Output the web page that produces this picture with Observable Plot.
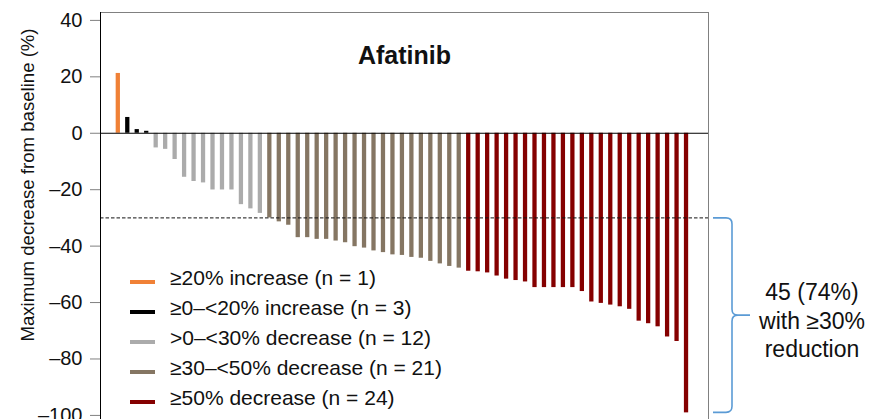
<!DOCTYPE html>
<html><head><meta charset="utf-8">
<script src="https://cdn.jsdelivr.net/npm/d3@7"></script>
<script src="https://cdn.jsdelivr.net/npm/@observablehq/plot@0.6"></script>
<style>
html,body{margin:0;padding:0;background:#fff;overflow:hidden;}
#wrap{position:relative;width:873px;height:419px;font-family:"Liberation Sans",Arial,sans-serif;}
#legend{position:absolute;left:130px;top:263px;}
.row{position:relative;height:30px;line-height:30px;font-size:21px;padding-left:40px;white-space:nowrap;color:#111;}
.sw{position:absolute;left:0;top:17px;width:25px;height:4px;}
</style></head><body><div id="wrap"></div>
<script>
// ---- data ----
const groups = ["≥20% increase", "≥0–<20% increase", ">0–<30% decrease", "≥30–<50% decrease", "≥50% decrease"];
const groupColors = ["#F08136", "#000000", "#ABABAB", "#857663", "#850000"];
const increase20 = [21.2];
const increase0 = [5.6, 1.3, 0.7];
const decrease0 = [-5.2, -5.7, -9.3, -15.6, -17.1, -17.6, -20.1, -20.1, -20.1, -25.3, -26.8, -28.4];
const decrease30 = [-30, -31.4, -32.6, -37, -37, -37.6, -37.6, -38.2, -38.8, -40.2, -40.7, -41.7, -42.3, -43.1, -43.3, -44, -44.3, -45.4, -46.3, -47.2, -47.8];
const decrease50 = [-48.9, -49.1, -49.5, -50.6, -51.7, -52.2, -52.7, -54.7, -54.7, -54.7, -54.7, -54.7, -56.1, -59.8, -60.3, -60.9, -61.5, -62.4, -66.6, -67.5, -68.6, -72.2, -73.8, -99.1];
const yTicks = [40, 20, 0, -20, -40, -60, -80, -100];
const threshold = -30;
const titleText = "Afatinib";
const yLabel = "Maximum decrease from baseline (%)";
const noteLines = ["45 (74%)", "with ≥30%", "reduction"];

// ---- build ----
const series = [increase20, increase0, decrease0, decrease30, decrease50];
const rows = [];
series.forEach((arr, gi) => arr.forEach(v => rows.push({i: rows.length, group: groups[gi], v})));
const xDomain = [-1.38, 62.82];
const yDomain = [-101.45, 42.8];
const vmin = d3.min(rows, d => d.v);

function brace(index, scales, values, dimensions) {
  const g = d3.create("svg:g");
  const y0 = scales.y(threshold) + 0.5, y1 = scales.y(vmin), ym = (y0 + y1) / 2;
  const xr = dimensions.width - dimensions.marginRight;
  const a = xr + 5, b = xr + 24, tip = xr + 42, r = 6;
  g.append("path")
    .attr("fill", "none").attr("stroke", "#5B9BD5").attr("stroke-width", 1.6)
    .attr("d", `M${a},${y0} L${b - r},${y0} Q${b},${y0} ${b},${y0 + r} L${b},${ym - r} Q${b},${ym} ${b + r},${ym} L${tip},${ym} M${b + r},${ym} Q${b},${ym} ${b},${ym + r} L${b},${y1 - r} Q${b},${y1} ${b - r},${y1} L${a},${y1}`);
  const t = g.append("text").attr("text-anchor", "middle").attr("font-size", 23)
    .attr("font-family", "Liberation Sans, Arial, sans-serif").attr("fill", "#111");
  const offs = [-15, 14, 42];
  noteLines.forEach((s, k) => t.append("tspan").attr("x", xr + 104).attr("y", ym + offs[k]).text(s));
  return g.node();
}

const chart = Plot.plot({
  width: 873, height: 419,
  marginLeft: 100, marginRight: 165, marginTop: 12, marginBottom: 0,
  style: {fontFamily: "Liberation Sans, Arial, sans-serif", background: "white", color: "#111"},
  x: {type: "linear", domain: xDomain, axis: null},
  y: {domain: yDomain},
  color: {domain: groups, range: groupColors},
  marks: [
    Plot.rect(rows, {x1: "i", x2: d => d.i + 1, y1: 0, y2: "v", fill: "group", insetLeft: 2.6, insetRight: 2.6}),
    Plot.ruleY([threshold], {stroke: "#111", strokeDasharray: "3.5,2"}),
    Plot.ruleY([0], {stroke: "#000"}),
    Plot.ruleY([yDomain[1]], {stroke: "#808080"}),
    Plot.ruleX([xDomain[1]], {stroke: "#808080"}),
    Plot.ruleX([xDomain[0]], {stroke: "#000"}),
    Plot.axisY({ticks: yTicks, tickSize: 10, tickPadding: 8, fontSize: 20, stroke: "#808080", label: null,
      tickFormat: d => d < 0 ? "\u2013" + Math.abs(d) : String(d)}),
    Plot.text([titleText], {frameAnchor: "top", dy: 33.5, fontSize: 25, fontWeight: "bold"}),
    Plot.text([yLabel], {frameAnchor: "left", textAnchor: "middle", rotate: -90, dx: -72, dy: -31, fontSize: 18.6}),
    brace
  ]
});
const wrap = document.getElementById("wrap");
wrap.appendChild(chart);
const legend = document.createElement("div");
legend.id = "legend";
const counts = series.map(s => s.length);
groups.forEach((g, k) => {
  const row = document.createElement("div");
  row.className = "row";
  const sw = document.createElement("span");
  sw.className = "sw";
  sw.style.background = groupColors[k];
  row.appendChild(sw);
  row.appendChild(document.createTextNode(`${g} (n = ${counts[k]})`));
  legend.appendChild(row);
});
wrap.appendChild(legend);
</script></body></html>
